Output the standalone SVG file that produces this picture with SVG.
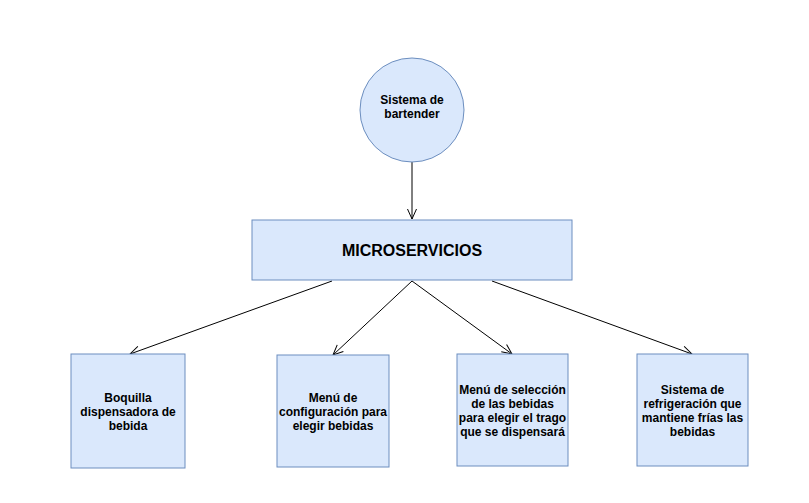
<svg xmlns="http://www.w3.org/2000/svg" width="809" height="503" viewBox="0 0 809 503">
<style>
.n{fill:#dae8fc;stroke:#6c8ebf;stroke-width:1}
.t{font-family:"Liberation Sans",Arial,Helvetica,sans-serif;font-weight:bold;font-size:12px;fill:#000;text-anchor:middle}
.e{stroke:#000;stroke-width:1;fill:none}
</style>
<defs>
<marker id="a" viewBox="0 0 12 12" refX="11" refY="6" markerWidth="12" markerHeight="12" markerUnits="userSpaceOnUse" orient="auto">
<path d="M1,1.5 L11,6 L1,10.5" fill="none" stroke="#000" stroke-width="1"/>
</marker>
</defs>
<rect width="809" height="503" fill="#fff"/>
<g id="connectors">
<path class="e" d="M412,162 L412,219" marker-end="url(#a)"/>
<path class="e" d="M332,281 L130,354" marker-end="url(#a)"/>
<path class="e" d="M412,281 L333,355" marker-end="url(#a)"/>
<path class="e" d="M412,281 L512,354" marker-end="url(#a)"/>
<path class="e" d="M492,281 L692,354" marker-end="url(#a)"/>
</g>
<g id="sistema">
<circle class="n" cx="412" cy="110" r="52"/>
<text class="t" x="412" y="104">Sistema de</text>
<text class="t" x="412" y="118">bartender</text>
</g>
<g id="microservicios">
<rect class="n" x="252" y="220" width="320" height="60"/>
<text class="t" x="412" y="256" style="font-size:16px">MICROSERVICIOS</text>
</g>
<g id="boquilla">
<rect class="n" x="71" y="354" width="114" height="114"/>
<text class="t" x="128" y="402">Boquilla</text>
<text class="t" x="128" y="416">dispensadora de</text>
<text class="t" x="128" y="430">bebida</text>
</g>
<g id="menu-config">
<rect class="n" x="277" y="355" width="112" height="112"/>
<text class="t" x="333" y="402">Menú de</text>
<text class="t" x="333" y="416">configuración para</text>
<text class="t" x="333" y="430">elegir bebidas</text>
</g>
<g id="menu-seleccion">
<rect class="n" x="457" y="354" width="111" height="112"/>
<text class="t" x="512.5" y="394">Menú de selección</text>
<text class="t" x="512.5" y="408">de las bebidas</text>
<text class="t" x="512.5" y="422">para elegir el trago</text>
<text class="t" x="512.5" y="436">que se dispensará</text>
</g>
<g id="refrigeracion">
<rect class="n" x="637" y="354" width="111" height="112"/>
<text class="t" x="692.5" y="394">Sistema de</text>
<text class="t" x="692.5" y="408">refrigeración que</text>
<text class="t" x="692.5" y="422">mantiene frías las</text>
<text class="t" x="692.5" y="436">bebidas</text>
</g>
</svg>
